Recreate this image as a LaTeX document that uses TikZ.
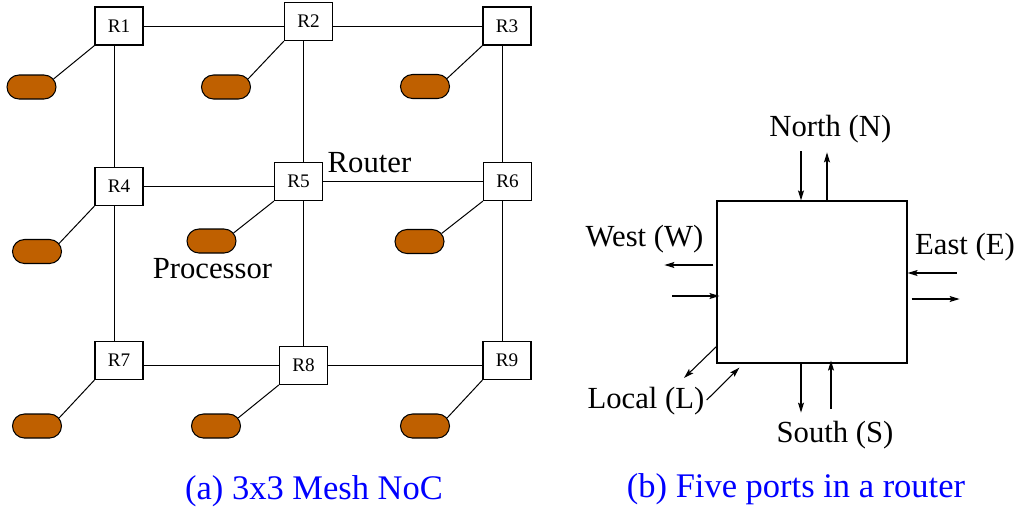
\documentclass[tikz,border=0pt]{standalone}
\usepackage{fontspec}
\newfontfamily\tms{Liberation Serif}
\usetikzlibrary{shapes.misc,calc,arrows.meta}
\definecolor{proccol}{RGB}{191,96,0}
\definecolor{capblue}{RGB}{0,0,255}
\begin{document}
\begin{tikzpicture}[x=0.75pt,y=-0.75pt,
 router/.style={draw, fill=white, line width=0.9pt, minimum width=36pt, minimum height=28.5pt, inner sep=0pt, font=\tms\Large},
 proc/.style={rounded rectangle, draw, fill=proccol, line width=0.8pt, minimum width=36.75pt, minimum height=18pt, inner sep=0pt},
 link/.style={line width=0.75pt},
 lbl/.style={font=\tms\Huge, anchor=base, inner sep=0pt, scale=0.925, transform shape},
 captext/.style={font=\tms\Huge, text=capblue, anchor=base, inner sep=0pt, scale=1.04, transform shape},
 port/.style={line width=0.8pt, -{Stealth[length=7.5pt,width=4.5pt,inset=1.5pt]}},
 rbox/.style={draw, line width=0.9pt, minimum width=142.5pt, minimum height=121.5pt, inner sep=0pt}]
\useasboundingbox (0,0) rectangle (1021,508);

% routers
\node[router] (R1) at (119,26) {R1};
\node[router] (R2) at (308.5,21.5) {R2};
\node[router] (R3) at (507,26) {R3};
\node[router] (R4) at (119,186.5) {R4};
\node[router] (R5) at (298.5,181.5) {R5};
\node[router] (R6) at (507.5,181.5) {R6};
\node[router] (R7) at (119,360.5) {R7};
\node[router] (R8) at (303.5,365.3) {R8};
\node[router] (R9) at (507,360.5) {R9};

% processors
\node[proc] (P1) at (31.5,87) {};
\node[proc] (P2) at (226,87) {};
\node[proc] (P3) at (425,86.5) {};
\node[proc] (P4) at (37,251.5) {};
\node[proc] (P5) at (211.5,241) {};
\node[proc] (P6) at (419.5,241.5) {};
\node[proc] (P7) at (37,426) {};
\node[proc] (P8) at (216,426) {};
\node[proc] (P9) at (425,426) {};

% attachment points of vertical links
\coordinate (v1) at ($(R1.south)+(-5,0)$);
\coordinate (v4) at ($(R4.south)+(-5,0)$);
\coordinate (v2) at ($(R2.south)+(-5,0)$);
\coordinate (v3) at ($(R3.south)+(-5,0)$);
\coordinate (v6) at ($(R6.south)+(-5,0)$);

% mesh links
\draw[link] (R1.east) -- (R1.east -| R2.west);
\draw[link] (R3.west -| R2.east) -- (R3.west);
\draw[link] (R4.east) -- (R4.east -| R5.west);
\draw[link] (R5.east) -- (R6.west);
\draw[link] (R8.west) -- (R8.west -| R7.east);
\draw[link] (R8.east) -- (R8.east -| R9.west);
\draw[link] (v1) -- (v1 |- R4.north);
\draw[link] (v4) -- (v4 |- R7.north);
\draw[link] (v2) -- (v2 |- R5.north);
\draw[link] (R8.north) -- (R8.north |- R5.south);
\draw[link] (v3) -- (v3 |- R6.north);
\draw[link] (v6) -- (v6 |- R9.north);

% router-processor links
\foreach \i in {1,...,9} {
  \draw[link] (R\i.south west) -- (P\i.20);
}

% labels
\node[lbl] (lrouter) at (369.5,172) {Router};
\node[lbl] (lproc) at (212.5,278.3) {Processor};
\node[captext] (capa) at (314,499) {(a) 3x3 Mesh NoC};
\node[captext] (capb) at (796,497) {(b) Five ports in a router};

% router with five ports
\node[rbox] (B) at (812,282) {};
\coordinate (Nin) at ($(B.north)+(-11,-49)$);
\coordinate (Nout) at ($(B.north)+(15,-48)$);
\coordinate (Sout) at ($(B.south)+(-11,49)$);
\coordinate (Sin) at ($(B.south)+(19,45)$);
\coordinate (Wout) at ($(B.west)+(-52,-17)$);
\coordinate (Win) at ($(B.west)+(-44,14)$);
\coordinate (Ein) at ($(B.east)+(49,-9)$);
\coordinate (Eout) at ($(B.east)+(52,17)$);
\coordinate (Lout) at (684,378);
\coordinate (Lin) at (706.7,400);
\coordinate (Loutst) at ($(B.south west)+(0,-17)$);
\coordinate (Linend) at ($(B.south west)+(23,4)$);

\draw[port] (Nin) -- (Nin |- B.north);
\draw[port] (Nout |- B.north) -- (Nout);
\draw[port] (Sout |- B.south) -- (Sout);
\draw[port] (Sin) -- ($(Sin |- B.south)+(0,-3)$);
\draw[port] ($(Wout -| B.west)+(-3,0)$) -- (Wout);
\draw[port] (Win) -- ($(Win -| B.west)+(3,0)$);
\draw[port] (Ein) -- (Ein -| B.east);
\draw[port] ($(Eout -| B.east)+(4,0)$) -- (Eout);
\draw[port] (Loutst) -- (Lout);
\draw[port] (Lin) -- (Linend);

\node[lbl] (lN) at (830.3,136.7) {North (N)};
\node[lbl] (lW) at (644.5,246) {West (W)};
\node[lbl] (lE) at (965,254) {East (E)};
\node[lbl] (lL) at (646,408) {Local (L)};
\node[lbl] (lS) at (835,442) {South (S)};
\end{tikzpicture}
\end{document}
